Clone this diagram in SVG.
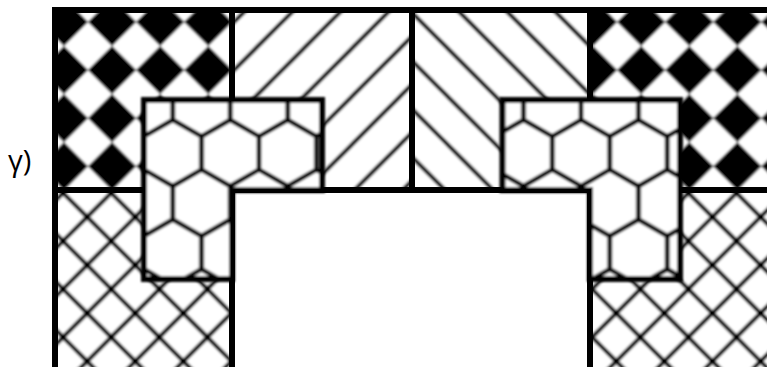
<svg xmlns="http://www.w3.org/2000/svg" width="767" height="367" viewBox="0 0 767 367">
<style>
.pl{stroke:#000;stroke-width:4;fill:none;stroke-linecap:butt}
.hx{stroke:#000;stroke-width:4.6;fill:none;stroke-linejoin:round;stroke-linecap:round}
.frame{fill:none;stroke:#000;stroke-width:6;stroke-linejoin:miter;stroke-linecap:square}
.box{stroke:#000;stroke-width:6;stroke-linejoin:miter}
.lbl{font-family:"Open Sans","DejaVu Sans",sans-serif;font-size:29px;fill:#000}
</style>
<defs>
<filter id="soft" x="-5%" y="-5%" width="110%" height="110%"><feGaussianBlur stdDeviation="0.8"/></filter>
<pattern id="dia" patternUnits="userSpaceOnUse" x="88" y="46" width="48.1" height="48.1">
<rect width="48.1" height="48.1" fill="#fff"/>
<polygon points="24.05,0 48.1,24.05 24.05,48.1 0,24.05" fill="#000"/>
</pattern>
<pattern id="fw" patternUnits="userSpaceOnUse" x="15" y="0.5" width="48.1" height="48.1">
<rect width="48.1" height="48.1" fill="#fff"/>
<path class="pl" d="M0,48.1 L48.1,0 M-4,4 L4,-4 M44.1,52.1 L52.1,44.1"/>
</pattern>
<pattern id="bk" patternUnits="userSpaceOnUse" x="15" y="0.5" width="48.1" height="48.1">
<rect width="48.1" height="48.1" fill="#fff"/>
<path class="pl" d="M0,0 L48.1,48.1 M44.1,-4 L52.1,4 M-4,44.1 L4,52.1"/>
</pattern>
<pattern id="xh" patternUnits="userSpaceOnUse" x="15" y="0.5" width="48.1" height="48.1">
<rect width="48.1" height="48.1" fill="#fff"/>
<path class="pl" d="M0,48.1 L48.1,0 M-4,4 L4,-4 M44.1,52.1 L52.1,44.1 M0,0 L48.1,48.1 M44.1,-4 L52.1,4 M-4,44.1 L4,52.1"/>
</pattern>
<pattern id="hexL" patternUnits="userSpaceOnUse" x="144" y="103.2" width="57.5" height="99.6">
<rect width="57.5" height="99.6" fill="#fff"/>
<path class="hx" d="M0,33.2 L28.75,16.6 L57.5,33.2 M0,66.4 L28.75,83 L57.5,66.4 M28.75,0 V16.6 M28.75,83 V99.6 M0,33.2 V66.4 M57.5,33.2 V66.4"/>
</pattern>
<pattern id="hexR" patternUnits="userSpaceOnUse" x="552.25" y="103.2" width="57.5" height="99.6">
<rect width="57.5" height="99.6" fill="#fff"/>
<path class="hx" d="M0,33.2 L28.75,16.6 L57.5,33.2 M0,66.4 L28.75,83 L57.5,66.4 M28.75,0 V16.6 M28.75,83 V99.6 M0,33.2 V66.4 M57.5,33.2 V66.4"/>
</pattern>
</defs>
<rect width="767" height="367" fill="#fff"/>
<text id="label" class="lbl" x="8" y="171">γ)</text>
<g id="regions" filter="url(#soft)">
<rect id="top-left" x="55" y="10" width="177" height="180" fill="url(#dia)"/>
<rect id="top-mid-left" x="232" y="10" width="180" height="180" fill="url(#fw)"/>
<rect id="top-mid-right" x="412" y="10" width="178" height="180" fill="url(#bk)"/>
<rect id="top-right" x="590" y="10" width="190" height="180" fill="url(#dia)"/>
<rect id="bottom-left" x="55" y="190" width="177" height="190" fill="url(#xh)"/>
<rect id="bottom-right" x="590" y="190" width="190" height="190" fill="url(#xh)"/>
</g>
<g id="frame">
<rect id="opening" x="232" y="190" width="358" height="190" fill="#fff"/>
<path class="frame" d="M55,380 V10 H780 M232,10 V100 M412,10 V190 M590,10 V100 M55,190 H144 M680,190 H780 M232,380 V190 H590 V380"/>
</g>
<g id="hex-left" filter="url(#soft)">
<polygon class="box" fill="url(#hexL)" points="144,100 322,100 322,190 232,190 232,279 144,279"/>
</g>
<g id="hex-right" filter="url(#soft)">
<polygon class="box" fill="url(#hexR)" points="502.5,100 680,100 680,279 590,279 590,190 502.5,190"/>
</g>
</svg>
